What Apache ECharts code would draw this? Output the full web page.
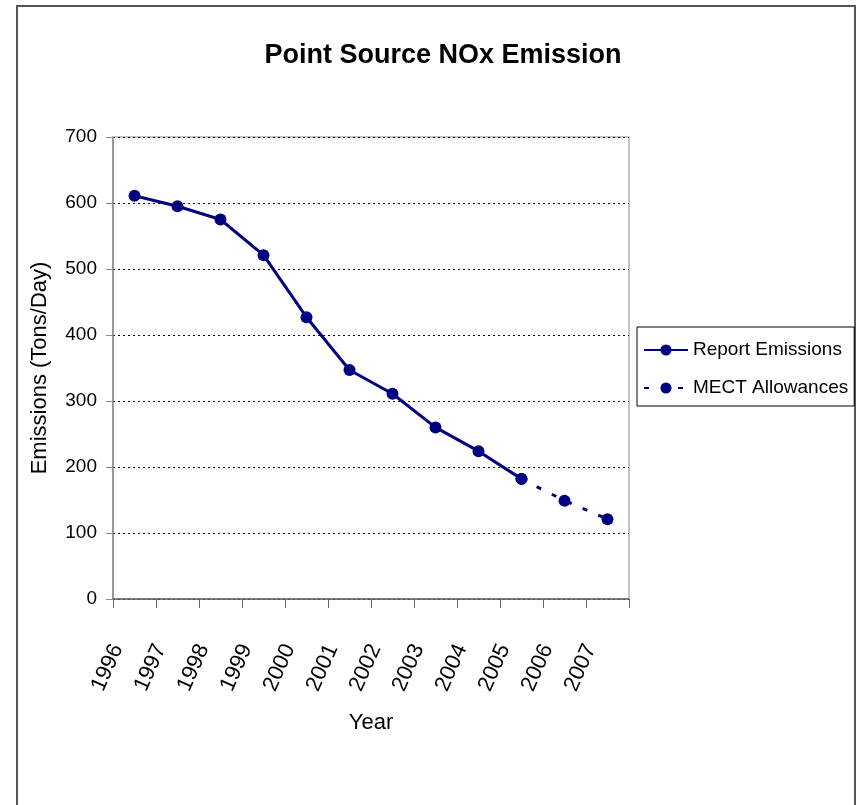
<!DOCTYPE html>
<html>
<head>
<meta charset="utf-8">
<script src="https://cdn.jsdelivr.net/npm/echarts@6/dist/echarts.min.js"></script>
<style>
html,body{margin:0;padding:0;background:#fff;}
#chart{width:859px;height:805px;}
</style>
</head>
<body>
<div id="chart"></div>
<script>
var chartTitle = 'Point Source NOx Emission';
var years = ['1996','1997','1998','1999','2000','2001','2002','2003','2004','2005','2006','2007'];
var reportEmissions = [611, 595, 575, 521, 427, 347, 311, 260, 224, 182, '-', '-'];
var mectAllowances = ['-', '-', '-', '-', '-', '-', '-', '-', '-', 182, 149, 121];
var yMin = 0, yMax = 700, yStep = 100;
var xName = 'Year';
var yName = 'Emissions (Tons/Day)';
var seriesNames = ['Report Emissions', 'MECT Allowances'];

var FONT = '"Liberation Sans", Arial, sans-serif';
var NAVY = '#000080';

var chart = echarts.init(document.getElementById('chart'), null, {renderer: 'canvas'});
chart.setOption({
  backgroundColor: '#ffffff',
  animation: false,
  title: {
    text: chartTitle,
    left: 438,
    top: 37,
    textAlign: 'center',
    textStyle: {fontFamily: FONT, fontSize: 27, fontWeight: 'bold', color: '#000'}
  },
  graphic: [{
    type: 'rect',
    silent: true,
    z: -10,
    shape: {x: 17, y: 6, width: 838, height: 840},
    style: {fill: 'none', stroke: '#555', lineWidth: 2}
  }],
  legend: {
    orient: 'vertical',
    left: 637,
    top: 327,
    padding: [13, 6, 8, 6],
    itemGap: 18,
    itemWidth: 44,
    itemHeight: 14,
    borderColor: '#000',
    borderWidth: 1,
    data: seriesNames,
    textStyle: {fontFamily: FONT, fontSize: 19, color: '#000', lineHeight: 20}
  },
  grid: {
    left: 113, right: 230, top: 137, bottom: 206,
    show: true, borderColor: '#8a8a8a', borderWidth: 1, backgroundColor: 'transparent'
  },
  xAxis: {
    type: 'category',
    data: years,
    boundaryGap: true,
    name: xName,
    nameLocation: 'middle',
    nameGap: 113,
    nameTextStyle: {fontFamily: FONT, fontSize: 22, color: '#000'},
    axisLine: {show: true, lineStyle: {color: '#666', width: 1.5}},
    axisTick: {show: true, length: 9, interval: 0, lineStyle: {color: '#666'}},
    axisLabel: {
      interval: 0, rotate: 66, margin: 8,
      padding: [0, 42, 0, 0],
      fontFamily: FONT, fontSize: 22, color: '#000'
    },
    splitLine: {show: false}
  },
  yAxis: {
    type: 'value',
    min: yMin, max: yMax, interval: yStep,
    name: yName,
    nameLocation: 'middle',
    nameGap: 62,
    nameTextStyle: {fontFamily: FONT, fontSize: 22, color: '#000'},
    axisLine: {show: true, lineStyle: {color: '#888', width: 1.5}},
    axisTick: {show: true, length: 7, lineStyle: {color: '#888'}},
    axisLabel: {margin: 16, fontFamily: FONT, fontSize: 19, color: '#000'},
    splitLine: {show: true, lineStyle: {color: '#000', type: [2, 3], width: 1}}
  },
  series: [
    {
      name: seriesNames[0],
      type: 'line',
      data: reportEmissions,
      color: NAVY,
      symbol: 'circle',
      symbolSize: 12,
      lineStyle: {color: NAVY, width: 3},
      itemStyle: {color: NAVY}
    },
    {
      name: seriesNames[1],
      type: 'line',
      data: mectAllowances,
      color: NAVY,
      symbol: 'circle',
      symbolSize: 12,
      lineStyle: {color: NAVY, width: 3, type: [5, 12]},
      itemStyle: {color: NAVY}
    }
  ]
});
</script>
</body>
</html>
